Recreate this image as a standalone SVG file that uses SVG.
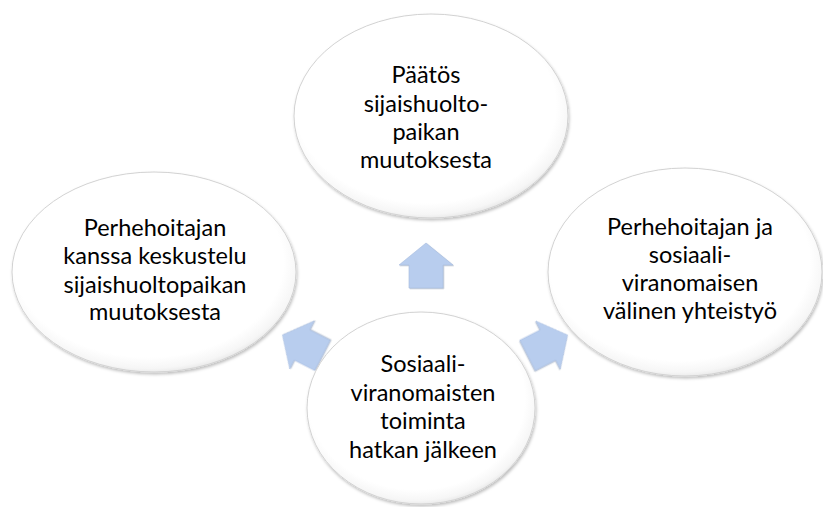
<svg xmlns="http://www.w3.org/2000/svg" width="823" height="507" viewBox="0 0 823 507">
<style>
.node ellipse{fill:url(#eg);stroke:#d2d2d2;stroke-width:1;filter:url(#sh);}
.node text{font-family:"Lato","Liberation Sans",sans-serif;font-size:23.5px;fill:#000;text-anchor:middle;}
.arr polygon{fill:#b8cdee;stroke:#a9bedf;stroke-width:0.6;filter:url(#ash);}
</style>
<defs>
<radialGradient id="eg" cx="0.48" cy="0.45" r="0.56">
<stop offset="0" stop-color="#ffffff"/>
<stop offset="0.85" stop-color="#ffffff"/>
<stop offset="0.95" stop-color="#f6f6f6"/>
<stop offset="1" stop-color="#e6e6e6"/>
</radialGradient>
<filter id="sh" x="-10%" y="-10%" width="120%" height="125%">
<feDropShadow dx="1" dy="2" stdDeviation="1.5" flood-color="#000" flood-opacity="0.25"/>
</filter>
<filter id="ash" x="-20%" y="-20%" width="140%" height="140%">
<feDropShadow dx="0.8" dy="0.8" stdDeviation="0.6" flood-color="#6d7f99" flood-opacity="0.45"/>
</filter>
</defs>
<rect width="823" height="507" fill="#fff"/>
<g id="connectors" class="arr">
<polygon points="0,-22 27,0 17,0 17,23 -17,23 -17,0 -27,0" transform="translate(426,265)"/>
<polygon points="0,-22 27,0 17,0 17,23 -17,23 -17,0 -27,0" transform="translate(302,345) rotate(-63)"/>
<polygon points="0,-22 27,0 17,0 17,23 -17,23 -17,0 -27,0" transform="translate(548,345) rotate(63)"/>
</g>
<g id="node-top" class="node">
<ellipse cx="431" cy="116" rx="137" ry="102"/>
<text x="426" y="83">Päätös</text>
<text x="426" y="112">sijaishuolto-</text>
<text x="426" y="140">paikan</text>
<text x="426" y="168">muutoksesta</text>
</g>
<g id="node-left" class="node">
<ellipse cx="154" cy="272" rx="142" ry="100"/>
<text x="155" y="236">Perhehoitajan</text>
<text x="155" y="264">kanssa keskustelu</text>
<text x="155" y="293">sijaishuoltopaikan</text>
<text x="155" y="320">muutoksesta</text>
</g>
<g id="node-right" class="node">
<ellipse cx="685" cy="272" rx="137" ry="104"/>
<text x="690" y="235">Perhehoitajan ja</text>
<text x="690" y="263">sosiaali-</text>
<text x="690" y="291">viranomaisen</text>
<text x="690" y="319">välinen yhteistyö</text>
</g>
<g id="node-bottom" class="node">
<ellipse cx="421" cy="408" rx="114" ry="96"/>
<text x="423" y="372">Sosiaali-</text>
<text x="423" y="401">viranomaisten</text>
<text x="423" y="429">toiminta</text>
<text x="423" y="458">hatkan jälkeen</text>
</g>
</svg>
